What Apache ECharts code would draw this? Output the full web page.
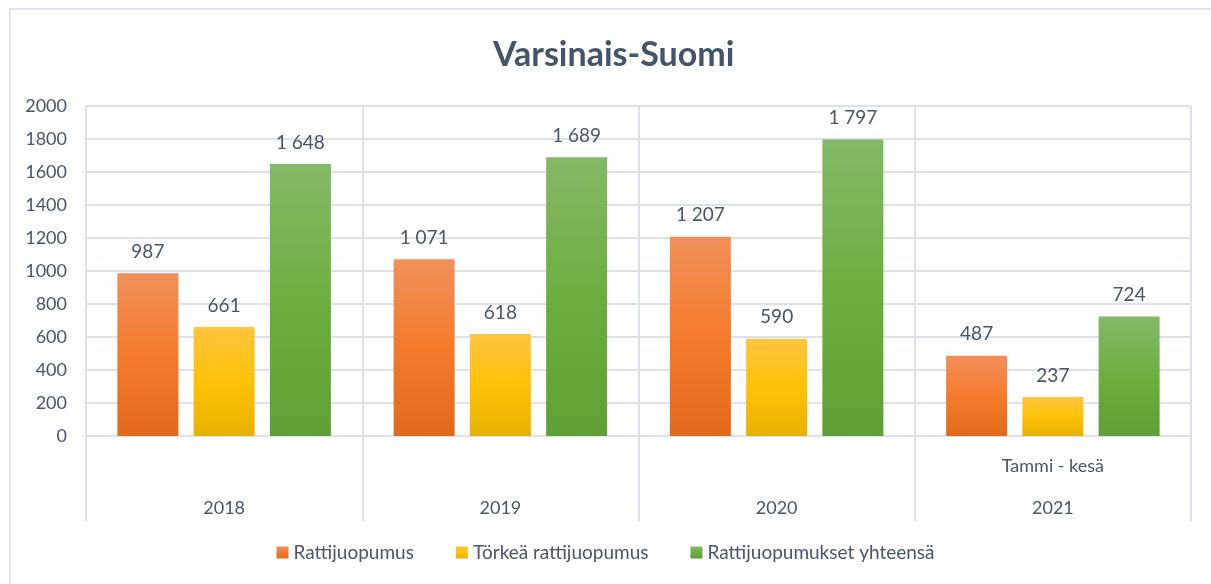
<!DOCTYPE html>
<html>
<head>
<meta charset="utf-8">
<script src="https://cdn.jsdelivr.net/npm/echarts@6/dist/echarts.min.js"></script>
<style>
  html, body { margin: 0; padding: 0; background: #fff; overflow: hidden; }
  #frame { position: absolute; left: 9px; top: 8px; width: 1210px; height: 600px; border: 2px solid #e1e5eb; box-sizing: border-box; }
  #chart { position: absolute; left: 0; top: 0; width: 1211px; height: 584px; }
</style>
</head>
<body>
<div id="frame"></div>
<div id="chart"></div>
<script>
// kategoriat ja arvot
const years = ['2018', '2019', '2020', '2021']
const subLabels = ['', '', '', 'Tammi - kesä']
const yTicks = [0, 200, 400, 600, 800, 1000, 1200, 1400, 1600, 1800, 2000]
const rattijuopumus = [987, 1071, 1207, 487]
const torkea = [661, 618, 590, 237]
const yhteensa = [1648, 1689, 1797, 724]

const txt = '#4a5568'
const grid = '#dde2e9'
const font = 'Lato'

function grad (top, mid, bottom) {
  return new echarts.graphic.LinearGradient(0, 0, 0, 1, [
    { offset: 0, color: top },
    { offset: 0.5, color: mid },
    { offset: 1, color: bottom }
  ])
}

function fmt (v) {
  return String(v).replace(/\B(?=(\d{3})+(?!\d))/g, ' ')
}

const label = {
  show: true,
  position: 'top',
  distance: 12,
  color: txt,
  fontSize: 19,
  fontFamily: font,
  formatter: p => fmt(p.value)
}

const myChart = echarts.init(document.getElementById('chart'))
myChart.setOption({
  animation: false,
  title: {
    text: 'Varsinais-Suomi',
    left: 488,
    top: 33,
    textStyle: { color: '#44546a', fontSize: 34, fontWeight: 'bold', fontFamily: font }
  },
  legend: {
    bottom: 17,
    left: 'center',
    itemWidth: 12,
    itemHeight: 12,
    itemGap: 42,
    icon: 'rect',
    textStyle: { color: txt, fontSize: 19, fontFamily: font },
    data: ['Rattijuopumus', 'Törkeä rattijuopumus', 'Rattijuopumukset yhteensä']
  },
  grid: { left: 86, right: 20, top: 106, bottom: 148 },
  xAxis: [
    {
      type: 'category',
      position: 'bottom',
      data: years,
      axisLine: { lineStyle: { color: grid, width: 2 } },
      axisTick: { show: true, length: 85, interval: 0, lineStyle: { color: grid, width: 2 } },
      splitLine: { show: true, interval: 0, lineStyle: { color: grid, width: 2 } },
      axisLabel: {
        margin: 21,
        interval: 0,
        color: txt,
        fontSize: 18,
        fontFamily: font,
        formatter: (v, i) => subLabels[i]
      }
    },
    {
      type: 'category',
      position: 'bottom',
      data: years,
      axisLine: { show: false },
      axisTick: { show: false },
      axisLabel: { margin: 63, interval: 0, color: txt, fontSize: 18, fontFamily: font }
    }
  ],
  yAxis: {
    type: 'value',
    min: yTicks[0],
    max: yTicks[yTicks.length - 1],
    interval: yTicks[1] - yTicks[0],
    axisLine: { show: false },
    axisTick: { show: false },
    splitLine: { lineStyle: { color: grid, width: 2 } },
    axisLabel: { margin: 19, color: txt, fontSize: 18, fontFamily: font, formatter: v => String(v) }
  },
  series: [
    {
      name: 'Rattijuopumus',
      type: 'bar',
      xAxisIndex: 0,
      data: rattijuopumus,
      barWidth: 61,
      barGap: '25%',
      itemStyle: { color: grad('#f18f5b', '#f47b2c', '#e2691a') },
      label
    },
    {
      name: 'Törkeä rattijuopumus',
      type: 'bar',
      xAxisIndex: 0,
      data: torkea,
      barWidth: 61,
      barGap: '25%',
      itemStyle: { color: grad('#ffc53f', '#ffc208', '#e6b200') },
      label
    },
    {
      name: 'Rattijuopumukset yhteensä',
      type: 'bar',
      xAxisIndex: 0,
      data: yhteensa,
      barWidth: 61,
      barGap: '25%',
      itemStyle: { color: grad('#84b966', '#6cae40', '#5f9f33') },
      label
    }
  ]
})
</script>
</body>
</html>
